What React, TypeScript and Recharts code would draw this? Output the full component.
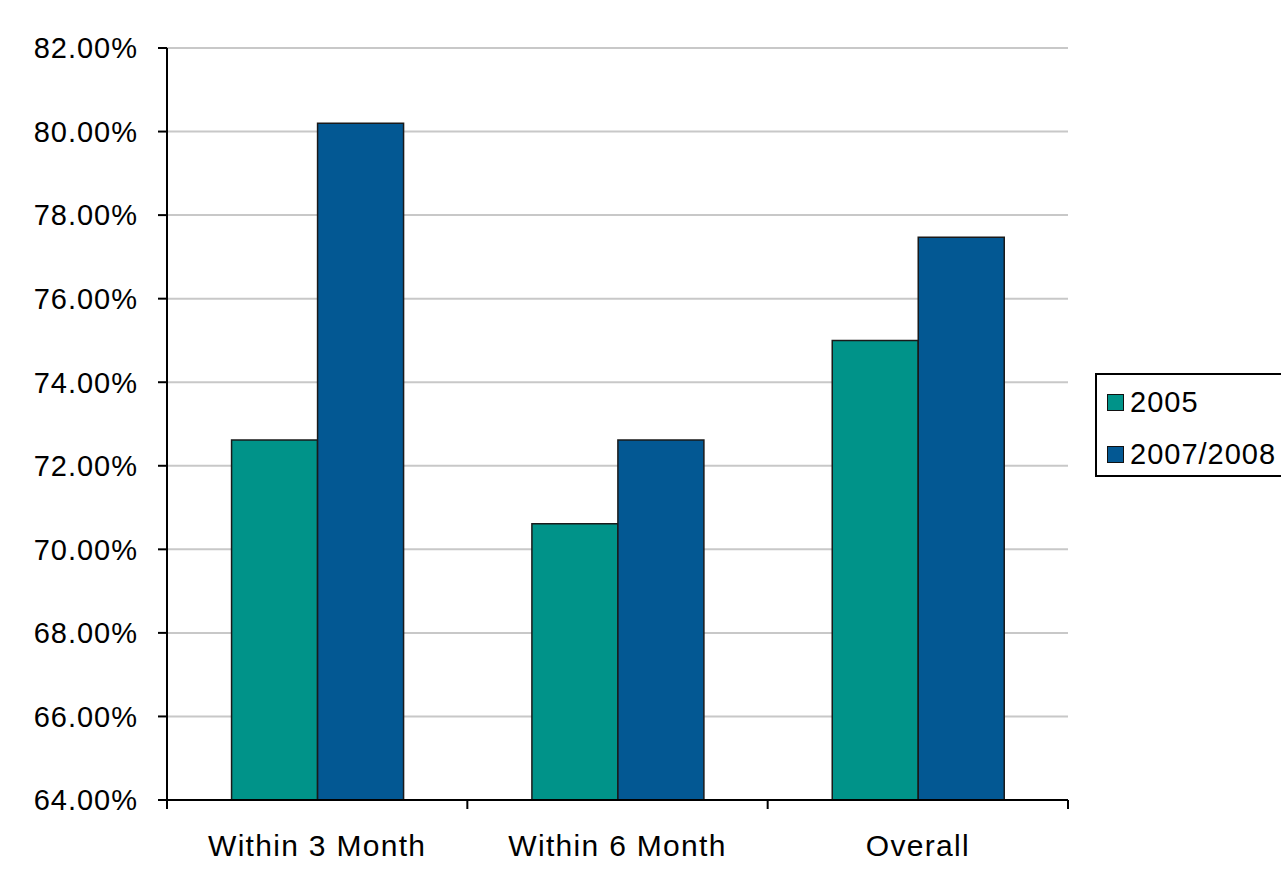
import React from 'react';
import { BarChart, Bar, XAxis, YAxis, CartesianGrid } from 'recharts';

const categories = ['Within 3 Month', 'Within 6 Month', 'Overall'];
const series2005 = [72.62, 70.61, 75.0];
const series2007 = [80.2, 72.62, 77.47];
const yTicks = [64, 66, 68, 70, 72, 74, 76, 78, 80, 82];
const seriesNames = ['2005', '2007/2008'];

const TEAL = '#009389';
const BLUE = '#035893';
const FONT = '"Liberation Sans", Arial, sans-serif';

const data = categories.map((name, i) => ({
  name,
  y2005: series2005[i],
  y2007: series2007[i],
}));

// category label plus the boundary tick marks Excel puts between groups
const CategoryTick = (props: any) => {
  const { x, y, payload, index, width } = props;
  const bw = width / categories.length;
  return (
    <g>
      <line x1={x - bw / 2} x2={x - bw / 2} y1={y} y2={y + 9} stroke="#000" strokeWidth={2} />
      {index === categories.length - 1 && (
        <line x1={x + bw / 2} x2={x + bw / 2} y1={y} y2={y + 9} stroke="#000" strokeWidth={2} />
      )}
      <text
        x={x}
        y={y + 56}
        textAnchor="middle"
        fontSize={30}
        letterSpacing={1.3}
        fontFamily={FONT}
        fill="#000"
      >
        {payload.value}
      </text>
    </g>
  );
};

const LegendBox = () => (
  <div
    style={{
      position: 'absolute',
      left: 1095,
      top: 373,
      border: '2px solid #000',
      background: '#fff',
      width: 200,
      height: 104,
      boxSizing: 'border-box',
      fontFamily: FONT,
      fontSize: 29,
      letterSpacing: 1,
      color: '#000',
    }}
  >
    {seriesNames.map((label, i) => (
      <div
        key={label}
        style={{ position: 'absolute', left: 10, top: 12 + i * 52, display: 'flex', alignItems: 'center' }}
      >
        <span
          style={{
            width: 17,
            height: 17,
            background: i === 0 ? TEAL : BLUE,
            border: '1.5px solid #111',
            boxSizing: 'border-box',
            marginRight: 6,
            display: 'inline-block',
          }}
        />
        <span style={{ lineHeight: '30px' }}>{label}</span>
      </div>
    ))}
  </div>
);

export default function App() {
  return (
    <div style={{ position: 'absolute', left: 0, top: 0, width: 1281, height: 874, background: '#fff', overflow: 'hidden' }}>
      <BarChart
        width={1281}
        height={874}
        data={data}
        margin={{ top: 48, right: 213, bottom: 0, left: 0 }}
        barCategoryGap="21.5%"
        barGap={0}
      >
        <CartesianGrid vertical={false} stroke="#c8c8c8" strokeWidth={2} />
        <XAxis
          dataKey="name"
          height={74}
          tickSize={0}
          tickMargin={0}
          axisLine={{ stroke: '#000', strokeWidth: 2 }}
          tickLine={false}
          tick={<CategoryTick />}
          interval={0}
        />
        <YAxis
          width={167}
          domain={[64, 82]}
          ticks={yTicks}
          interval={0}
          allowDataOverflow
          tickFormatter={(v: number) => `${v.toFixed(2)}%`}
          tickSize={9}
          tickMargin={20}
          axisLine={{ stroke: '#000', strokeWidth: 2 }}
          tickLine={{ stroke: '#000', strokeWidth: 2 }}
          tick={{ fill: '#000', fontSize: 29, fontFamily: FONT, letterSpacing: 1 }}
        />
        <YAxis
          yAxisId="frame"
          orientation="right"
          width={0}
          tick={false}
          tickLine={false}
          axisLine={{ stroke: '#a0a0a0', strokeWidth: 2 }}
        />
        <Bar dataKey="y2005" name={seriesNames[0]} fill={TEAL} stroke="#1a1a1a" strokeWidth={1.5} isAnimationActive={false} />
        <Bar dataKey="y2007" name={seriesNames[1]} fill={BLUE} stroke="#1a1a1a" strokeWidth={1.5} isAnimationActive={false} />
      </BarChart>
      <LegendBox />
    </div>
  );
}
